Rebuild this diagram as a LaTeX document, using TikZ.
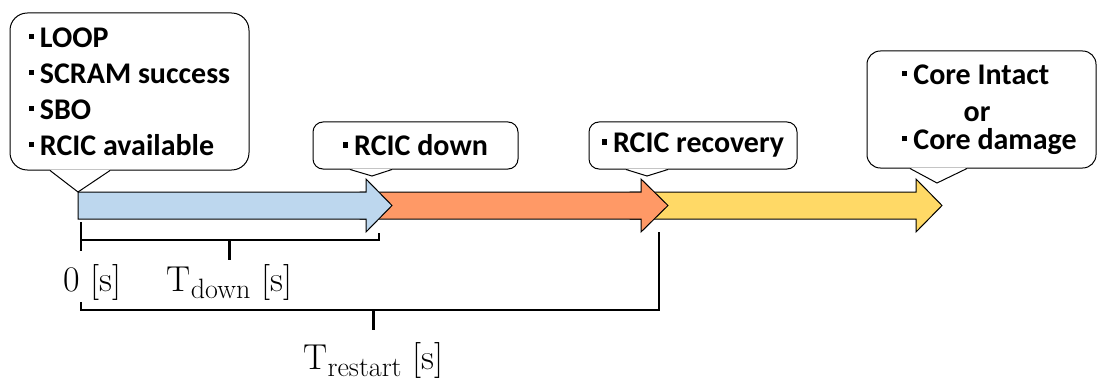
\documentclass[tikz,border=0pt]{standalone}
\usepackage{fontspec}
\usepackage{xcolor}
\newfontfamily\callfont{Carlito}
\definecolor{phaseblue}{HTML}{BDD7EE}
\definecolor{phaseorange}{RGB}{255,153,102}
\definecolor{phaseyellow}{HTML}{FFD966}
\newcommand{\bul}{\rule[0.28em]{0.17em}{0.17em}\hspace{0.2em}}
\newcommand{\tsub}[1]{\raisebox{-0.2em}{\fontsize{21}{21}\selectfont #1}}
\newcommand{\callpointer}[4]{%
  \fill[white] ([xshift=#2,yshift=.6pt]#1.south) -- (#4) -- ([xshift=#3,yshift=.6pt]#1.south) -- cycle;
  \draw[line width=.75pt] ([xshift=#2]#1.south) -- (#4) -- ([xshift=#3]#1.south);}
\tikzset{phase/.style={draw=black, line width=0.75pt},
 balloon/.style={draw, line width=0.75pt, fill=white, rounded corners=7.5pt, inner sep=0pt,
   font=\callfont\bfseries\fontsize{22.5}{27}\selectfont, align=left},
 calltext/.style={font=\callfont\bfseries\fontsize{22.5}{21}\selectfont, align=left, inner sep=0pt},
 timetext/.style={font=\fontsize{27}{30}\selectfont, inner sep=0pt, anchor=base},
 bracket/.style={line width=2.2pt},
 }

\begin{document}
\begin{tikzpicture}[x=0.75pt, y=-0.75pt]
        \useasboundingbox (0,0) rectangle (1098,381);
        \draw[phase, fill=phaseyellow] (630,192) -- (916,192) -- (916,179) -- (942,205.5) -- (916,232) -- (916,219) -- (630,219) -- cycle;
        \draw[phase, fill=phaseorange] (360,192) -- (641,192) -- (641,179) -- (668,205.5) -- (641,232) -- (641,219) -- (360,219) -- cycle;
        \draw[phase, fill=phaseblue] (78,192) -- (366,192) -- (366,179) -- (392,205.5) -- (366,232) -- (366,219) -- (78,219) -- cycle;
        \coordinate (t0) at (78,192);
        \coordinate (t1) at (372,176);
        \coordinate (t2) at (647,176);
        \coordinate (t3) at (937,183);

        \node[balloon, rounded corners=13pt, minimum width=179.25pt, minimum height=117.75pt] (start) at (129.5,91.5)
            {\bul LOOP\\ \bul SCRAM success\\ \bul SBO\\ \bul RCIC available};
        \node[balloon, minimum width=153.75pt, minimum height=35.25pt] (down) at (415.5,145.5) {\bul RCIC down};
        \node[balloon, minimum width=156pt, minimum height=35.25pt] (recov) at (693,145.5) {\bul RCIC recovery};
        \node[balloon, rounded corners=10pt, minimum width=171.75pt, minimum height=87.75pt] (end) at (981.5,109.5) {};
        \node[calltext, anchor=west] (endtext) at (902,110)
            {\bul Core Intact\\[6.75pt] \hspace*{46pt}or\\ \bul Core damage};
        \callpointer{start}{-59.6pt}{-14.6pt}{t0}
        \callpointer{down}{-49.1pt}{-17.6pt}{t1}
        \callpointer{recov}{-50.25pt}{-18.75pt}{t2}
        \callpointer{end}{-53.6pt}{-10.9pt}{t3}

        \node[timetext] (zero) at (92.5,291) {0 [s]};
        \node[timetext] (tdown) at (229.5,291) {T\tsub{down} [s]};
        \node[timetext] (trestart) at (373.5,369) {T\tsub{restart} [s]};

        \draw[bracket] (81,222) -- (81,251);
        \draw[bracket] (81,240) -- (379,240) -- (379,233);
        \draw[bracket] (229.5,240) -- ([yshift=3pt]tdown.north);
        \draw[bracket] (81,302) -- (81,310) -- (659,310) -- (659,232);
        \draw[bracket] (373.5,310) -- ([yshift=9pt]trestart.north);
    \end{tikzpicture}
\end{document}
